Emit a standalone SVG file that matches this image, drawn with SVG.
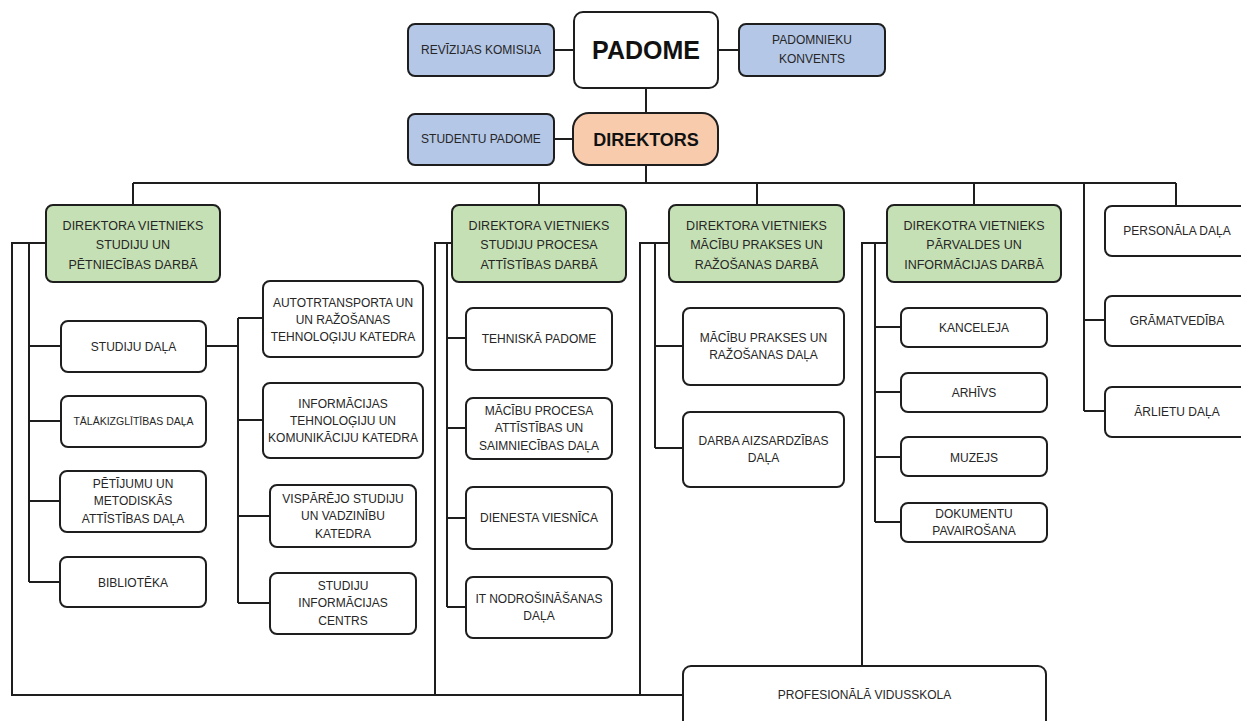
<svg xmlns="http://www.w3.org/2000/svg" width="1241" height="721" viewBox="0 0 1241 721">
<style>
rect{stroke:#1e1e1e;stroke-width:2;fill:#fff}
.b{fill:#B4C7E7}
.g{fill:#C5E0B4}
.p{fill:#F8CBAD}
text{font-family:"Liberation Sans",Arial,sans-serif;font-size:12px;fill:#262626;text-anchor:middle}
.gt{font-size:12.5px}
.sm{font-size:10.5px}
.big{font-size:25px;font-weight:bold;fill:#111}
.dir{font-size:18px;font-weight:bold;fill:#111}
#connectors path{stroke:#1e1e1e;stroke-width:2;fill:none}
</style>
<rect x="0" y="0" width="1241" height="721" style="fill:#fff;stroke:none"/>
<g id="connectors">
<path d="M554,50H574M718,50H739M646,88V113M554,139H573M646,165V183"/>
<path d="M133,183H1176M133,183V205M539,183V205M757,183V205M974,183V205M1176,183V206M1084,183V411"/>
<path d="M1084,320H1105M1084,411H1105"/>
<path d="M46,243H12V695H683"/>
<path d="M29,243V582M29,346H61M29,421H61M29,501H60M29,582H60"/>
<path d="M206,346H238M238,318V603M238,318H263M238,420H263M238,516H270M238,603H270"/>
<path d="M452,243H435V695"/>
<path d="M447,243V607M447,338H466M447,428H466M447,518H466M447,607H466"/>
<path d="M669,243H640V695"/>
<path d="M655,243V448M655,346H683M655,448H683"/>
<path d="M887,243H862V666"/>
<path d="M875,243V522M875,327H901M875,392H901M875,457H901M875,522H901"/>
</g>
<g id="padome"><rect x="574" y="12" width="144" height="76" rx="9"/><text class="big" x="646" y="59">PADOME</text></g>
<g id="revizijas"><rect class="b" x="408" y="24" width="146" height="52" rx="7"/><text x="481" y="54">REVĪZIJAS KOMISIJA</text></g>
<g id="padomnieku"><rect class="b" x="739" y="24" width="146" height="52" rx="7"/><text x="812" y="44">PADOMNIEKU</text><text x="812" y="63">KONVENTS</text></g>
<g id="studentu"><rect class="b" x="408" y="114" width="146" height="51" rx="7"/><text x="481" y="143">STUDENTU PADOME</text></g>
<g id="direktors"><rect class="p" x="573" y="113" width="145" height="52" rx="16"/><text class="dir" x="646" y="145.5">DIREKTORS</text></g>

<g id="v1"><rect class="g" x="46" y="205" width="174" height="77" rx="7"/><text class="gt" x="133" y="229.5">DIREKTORA VIETNIEKS</text><text class="gt" x="133" y="249">STUDIJU UN</text><text class="gt" x="133" y="268.5">PĒTNIECĪBAS DARBĀ</text></g>
<g id="v2"><rect class="g" x="452" y="205" width="174" height="77" rx="7"/><text class="gt" x="539" y="229.5">DIREKTORA VIETNIEKS</text><text class="gt" x="539" y="249">STUDIJU PROCESA</text><text class="gt" x="539" y="268.5">ATTĪSTĪBAS DARBĀ</text></g>
<g id="v3"><rect class="g" x="669" y="205" width="175" height="77" rx="7"/><text class="gt" x="756.5" y="229.5">DIREKTORA VIETNIEKS</text><text class="gt" x="756.5" y="249">MĀCĪBU PRAKSES UN</text><text class="gt" x="756.5" y="268.5">RAŽOŠANAS DARBĀ</text></g>
<g id="v4"><rect class="g" x="887" y="205" width="174" height="77" rx="7"/><text class="gt" x="974" y="229.5">DIREKOTRA VIETNIEKS</text><text class="gt" x="974" y="249">PĀRVALDES UN</text><text class="gt" x="974" y="268.5">INFORMĀCIJAS DARBĀ</text></g>

<g id="studiju-dala"><rect x="61" y="321" width="145" height="51" rx="7"/><text x="133.5" y="350.5">STUDIJU DAĻA</text></g>
<g id="talakizglitibas"><rect x="61" y="396" width="145" height="51" rx="7"/><text class="sm" x="133.5" y="425">TĀLĀKIZGLĪTĪBAS DAĻA</text></g>
<g id="petijumu"><rect x="60" y="471" width="146" height="61" rx="7"/><text x="133" y="487.5">PĒTĪJUMU UN</text><text x="133" y="505">METODISKĀS</text><text x="133" y="522.5">ATTĪSTĪBAS DAĻA</text></g>
<g id="biblioteka"><rect x="60" y="557" width="146" height="50" rx="7"/><text x="133" y="586.5">BIBLIOTĒKA</text></g>

<g id="autotransporta"><rect x="263" y="281" width="160" height="76" rx="7"/><text x="343" y="306.5">AUTOTRTANSPORTA UN</text><text x="343" y="323.5">UN RAŽOŠANAS</text><text x="343" y="341">TEHNOLOĢIJU KATEDRA</text></g>
<g id="it-katedra"><rect x="263" y="383" width="160" height="75" rx="7"/><text x="343" y="407.5">INFORMĀCIJAS</text><text x="343" y="424.5">TEHNOLOĢIJU UN</text><text x="343" y="441.5">KOMUNIKĀCIJU KATEDRA</text></g>
<g id="visparejo"><rect x="270" y="485" width="146" height="62" rx="7"/><text x="343" y="502.5">VISPĀRĒJO STUDIJU</text><text x="343" y="520">UN VADZINĪBU</text><text x="343" y="537.5">KATEDRA</text></g>
<g id="sic"><rect x="270" y="573" width="146" height="61" rx="7"/><text x="343" y="589.5">STUDIJU</text><text x="343" y="607">INFORMĀCIJAS</text><text x="343" y="624.5">CENTRS</text></g>

<g id="tehniska"><rect x="466" y="308" width="146" height="62" rx="7"/><text x="539" y="342.5">TEHNISKĀ PADOME</text></g>
<g id="macibu-procesa"><rect x="466" y="398" width="146" height="61" rx="7"/><text x="539" y="414.5">MĀCĪBU PROCESA</text><text x="539" y="432">ATTĪSTĪBAS UN</text><text x="539" y="449.5">SAIMNIECĪBAS DAĻA</text></g>
<g id="dienesta"><rect x="466" y="487" width="146" height="62" rx="7"/><text x="539" y="521.5">DIENESTA VIESNĪCA</text></g>
<g id="it-nodrosinasanas"><rect x="466" y="577" width="146" height="61" rx="7"/><text x="539" y="602.5">IT NODROŠINĀŠANAS</text><text x="539" y="620">DAĻA</text></g>

<g id="macibu-prakses"><rect x="683" y="308" width="161" height="77" rx="7"/><text x="763.5" y="341.5">MĀCĪBU PRAKSES UN</text><text x="763.5" y="358.5">RAŽOŠANAS DAĻA</text></g>
<g id="darba-aizsardzibas"><rect x="683" y="412" width="161" height="75" rx="7"/><text x="763.5" y="444.5">DARBA AIZSARDZĪBAS</text><text x="763.5" y="461.5">DAĻA</text></g>

<g id="kanceleja"><rect x="901" y="308" width="146" height="39" rx="7"/><text x="974" y="331.5">KANCELEJA</text></g>
<g id="arhivs"><rect x="901" y="373" width="146" height="39" rx="7"/><text x="974" y="396.5">ARHĪVS</text></g>
<g id="muzejs"><rect x="901" y="437" width="146" height="39" rx="7"/><text x="974" y="461.5">MUZEJS</text></g>
<g id="dokumentu"><rect x="901" y="503" width="146" height="39" rx="7"/><text x="974" y="517.5">DOKUMENTU</text><text x="974" y="535">PAVAIROŠANA</text></g>

<g id="personala"><rect x="1105" y="206" width="146" height="50" rx="7"/><text x="1177" y="235">PERSONĀLA DAĻA</text></g>
<g id="gramatvediba"><rect x="1105" y="296" width="146" height="50" rx="7"/><text x="1177" y="325">GRĀMATVEDĪBA</text></g>
<g id="arlietu"><rect x="1105" y="387" width="146" height="50" rx="7"/><text x="1177" y="416">ĀRLIETU DAĻA</text></g>

<g id="profesionala"><rect x="683" y="666" width="363" height="70" rx="8"/><text x="864.5" y="699">PROFESIONĀLĀ VIDUSSKOLA</text></g>
</svg>
